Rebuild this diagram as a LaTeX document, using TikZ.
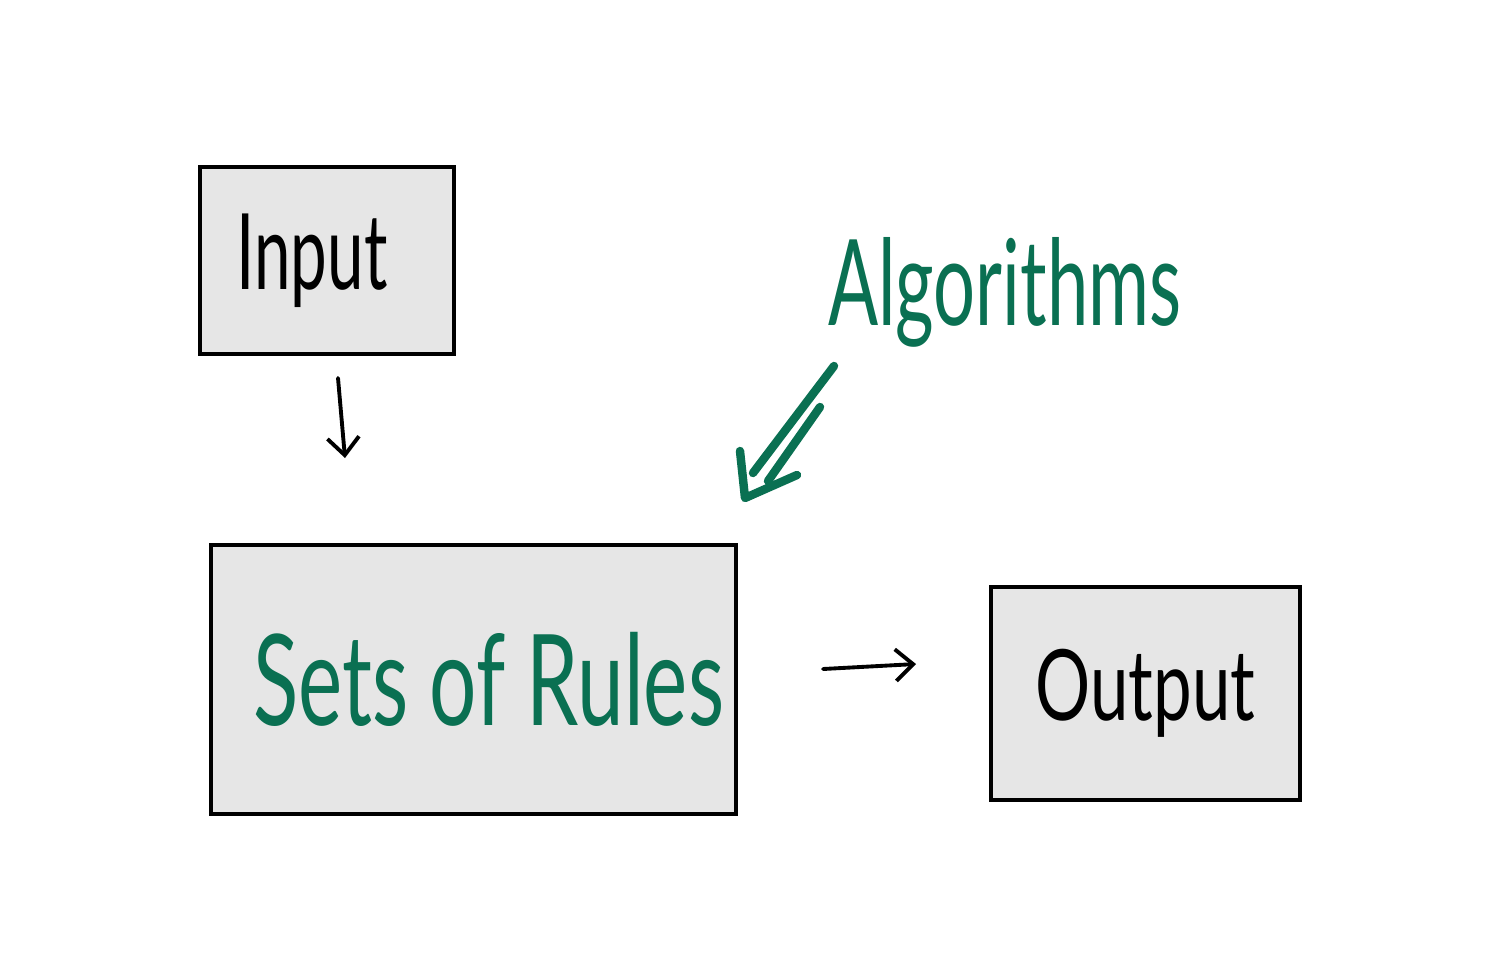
\documentclass[tikz,border=0pt]{standalone}
\usepackage{fontspec}
\setmainfont{Lato}
\usetikzlibrary{arrows.meta}
\definecolor{penGreen}{RGB}{10,112,82}
\definecolor{boxGray}{RGB}{230,230,230}
\tikzset{
  box/.style={draw=black, fill=boxGray, line width=1.2pt, inner sep=0pt},
  pen/.style={line width=1.1pt, line cap=round, -{Straight Barb[length=5pt,width=9pt,line width=1.1pt]}},
  greenpen/.style={draw=penGreen, line width=2.4pt, line cap=round, line join=round},
}
\begin{document}
\begin{tikzpicture}[x=0.01cm,y=-0.01cm]
\useasboundingbox[fill=white] (0,0) rectangle (1503,972);
\node[box, minimum width=2.54cm, minimum height=1.87cm] (input) at (327,260.5)
  {\hspace*{-0.3cm}\raisebox{-2pt}{\fontsize{30}{30}\selectfont\scalebox{0.62}[1]{Input}}};
\node[box, minimum width=5.25cm, minimum height=2.69cm] (rules) at (473.5,679.5)
  {\hspace*{0.3cm}\color{penGreen}\fontsize{36}{36}\selectfont\scalebox{0.66}[1]{Sets of Rules}};
\node[box, minimum width=3.09cm, minimum height=2.13cm] (output) at (1145.5,693.5)
  {\fontsize{28}{28}\selectfont\scalebox{0.7}[1]{Output}};
\node[text=penGreen, font=\fontsize{34}{34}\selectfont] (algo) at (1005,292) {\scalebox{0.62}[1]{Algorithms}};
% arrows
\coordinate (inA) at (338,378);
\coordinate (inB) at (345,458);
\coordinate (outA) at (823,669);
\coordinate (outB) at (916,664);
\draw[pen] (inA) -- (inB);
\draw[pen] (outA) -- (outB);
% double arrow from Algorithms
\coordinate (algA) at (834,366);
\coordinate (algB) at (820,407);
\coordinate (algTip) at (745,498);
\draw[greenpen] (algA) -- (753,473);
\draw[greenpen] (algB) -- (768,481);
\draw[greenpen] (740,451) -- (algTip) -- (797,475);
\end{tikzpicture}
\end{document}
